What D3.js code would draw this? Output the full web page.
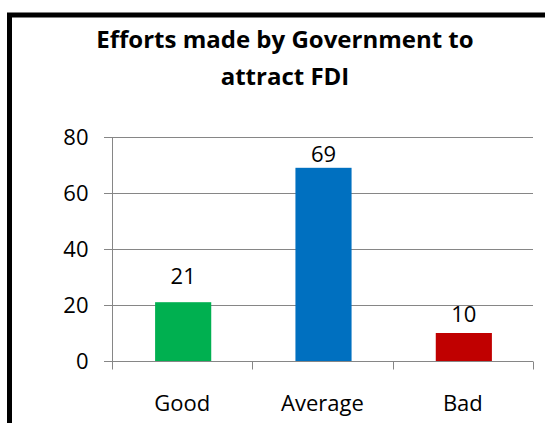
<!DOCTYPE html>
<html lang="en">
<head>
    <meta charset="UTF-8">
    <title></title>
    <style type="text/css">
        html, body { padding:0; margin:0; background:#fff; }
        text { font-family: "Open Sans", sans-serif; fill:#000; }
    </style>
</head>
<body>
<script src="https://d3js.org/d3.v7.min.js"></script>
<script>
    var categories = ['Good', 'Average', 'Bad'];
    var values = [21, 69, 10];
    var colors = ['#00B050', '#0070C0', '#C00000'];
    var yTicks = [0, 20, 40, 60, 80];
    var titleLines = ['Efforts made by Government to', 'attract FDI'];
    // label lift above each bar (the source nudged them a little)
    var labelLift = [18, 6, 11];

    var width = 545, height = 423;
    var plot = { left: 112, right: 533, top: 137, bottom: 361 };

    var svg = d3.select('body').append('svg')
        .attr('width', width)
        .attr('height', height);

    // frame (left + top edges only are visible)
    svg.append('path')
        .attr('d', 'M9.5,' + height + 'V15H' + width)
        .attr('fill', 'none')
        .attr('stroke', '#000')
        .attr('stroke-width', 5);

    svg.selectAll('.title')
        .data(titleLines)
        .enter().append('text')
        .attr('class', 'title')
        .attr('x', 285)
        .attr('y', function(d, i) { return 48 + i * 37; })
        .attr('text-anchor', 'middle')
        .style('font-size', '24px')
        .style('font-weight', 'bold')
        .text(function(d) { return d; });

    var x = d3.scaleBand()
        .domain(categories)
        .range([plot.left, plot.right]);

    var y = d3.scaleLinear()
        .domain([0, 80])
        .range([plot.bottom, plot.top]);

    // gridlines
    svg.append('g')
        .selectAll('line')
        .data(yTicks)
        .enter().append('line')
        .attr('x1', plot.left - 8)
        .attr('x2', plot.right)
        .attr('y1', function(d) { return Math.round(y(d)) + 0.5; })
        .attr('y2', function(d) { return Math.round(y(d)) + 0.5; })
        .attr('stroke', '#868686')
        .attr('stroke-width', 1.2);

    // y axis
    var yAxis = d3.axisLeft(y).tickValues(yTicks).tickSize(0).tickPadding(24);
    var gy = svg.append('g')
        .attr('transform', 'translate(' + (plot.left + 0.5) + ',0)')
        .call(yAxis);
    gy.select('.domain').attr('stroke', '#868686').attr('d', 'M0,' + plot.top + 'V' + (plot.bottom + 8));
    gy.selectAll('text')
        .style('font-family', '"Open Sans", sans-serif')
        .style('font-size', '22px')
        .attr('dy', '0.35em');

    // x axis
    var xAxis = d3.axisBottom(x).tickSize(0).tickPadding(34);
    var gx = svg.append('g')
        .attr('transform', 'translate(0,' + (Math.round(plot.bottom) + 0.5) + ')')
        .call(xAxis);
    gx.select('.domain').attr('stroke', '#868686').attr('stroke-width', 1.2).attr('d', 'M' + plot.left + ',0H' + plot.right);
    gx.selectAll('text')
        .style('font-family', '"Open Sans", sans-serif')
        .style('font-size', '22px');
    gx.selectAll('.sep')
        .data(categories.concat(['end']))
        .enter().append('line')
        .attr('class', 'sep')
        .attr('x1', function(d, i) { return Math.round(plot.left + i * x.bandwidth()) + 0.5; })
        .attr('x2', function(d, i) { return Math.round(plot.left + i * x.bandwidth()) + 0.5; })
        .attr('y1', 0)
        .attr('y2', 8)
        .attr('stroke', '#868686');

    // bars
    var barW = x.bandwidth() * 0.4;
    svg.append('g')
        .selectAll('rect')
        .data(values)
        .enter().append('rect')
        .attr('x', function(d, i) { return x(categories[i]) + (x.bandwidth() - barW) / 2 + 1; })
        .attr('y', function(d) { return y(d); })
        .attr('width', barW)
        .attr('height', function(d) { return y(0) - y(d); })
        .attr('fill', function(d, i) { return colors[i]; });

    // data labels
    svg.append('g')
        .selectAll('text')
        .data(values)
        .enter().append('text')
        .attr('x', function(d, i) { return x(categories[i]) + x.bandwidth() / 2 + 1; })
        .attr('y', function(d, i) { return y(d) - labelLift[i]; })
        .attr('text-anchor', 'middle')
        .style('font-size', '22px')
        .text(function(d) { return d; });
</script>
</body>
</html>
